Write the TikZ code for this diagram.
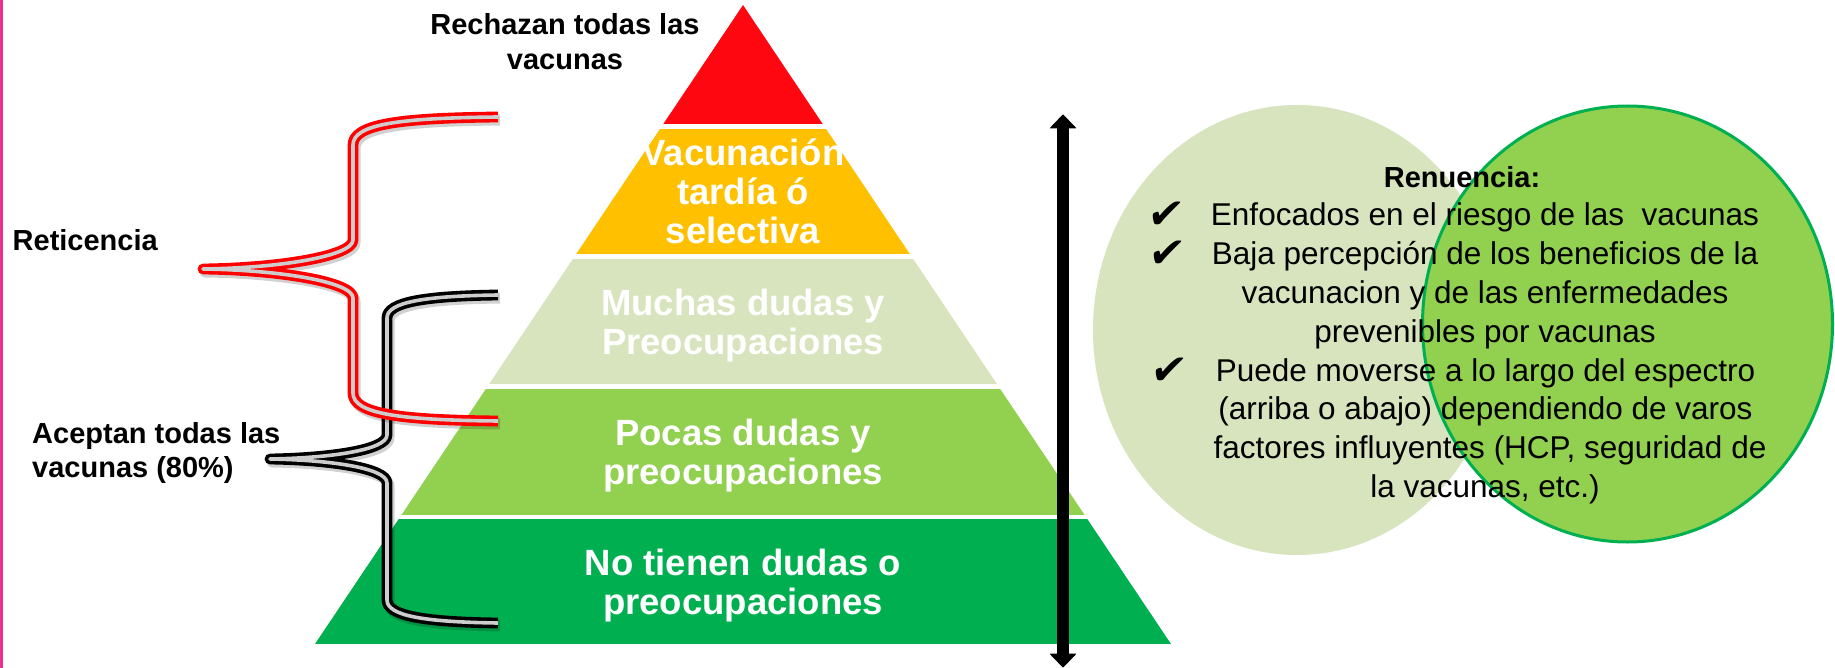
\documentclass[tikz,border=0pt]{standalone}
\usepackage{fontspec}
\setmainfont{Liberation Sans}
\newfontfamily\symfont{DejaVu Sans}
\usetikzlibrary{calc}
\definecolor{pyrred}{RGB}{255,7,16}
\definecolor{pyrorange}{RGB}{255,192,0}
\definecolor{pyrlight}{RGB}{215,228,189}
\definecolor{pyrgreen}{RGB}{146,208,80}
\definecolor{pyrdark}{RGB}{0,176,80}
\definecolor{pinkedge}{RGB}{236,46,140}
\definecolor{braceinner}{RGB}{205,205,205}
\begin{document}
\begin{tikzpicture}[x=1pt,y=-1pt,
  pyrtext/.style={text=white,font=\fontsize{36.5}{39}\selectfont\bfseries,inner sep=0pt,anchor=base},
  lbl/.style={font=\fontsize{29}{35}\selectfont\bfseries,inner sep=0pt,anchor=base},
  rtxt/.style={font=\fontsize{31.5}{38.6}\selectfont,inner sep=0pt,anchor=base},
  chk/.style={font=\symfont\fontsize{42}{42}\selectfont,inner sep=0pt,anchor=base,xslant=0.15},
  braceshadow/.style={draw=black,opacity=0.18,line width=11pt,line join=round,
     transform canvas={shift={(2pt,-3pt)}}},
  bracestroke/.style={draw=#1,line width=3.6pt,double=braceinner,double distance=3.6pt,line join=round},
  bigshaft/.style={line width=12pt,draw=black},
  bighead/.style={fill=black,draw=black,line width=1pt,line join=round},
]
\useasboundingbox (0,0) rectangle (1835,668);
\fill[white] (0,0) rectangle (1835,668);
% left pink edge
\fill[pinkedge] (0,0) rectangle (2.6,668);

% pyramid
\begin{scope}
\clip (743,5) -- (1171,644) -- (315,644) -- cycle;
\fill[pyrred] (300,0) rectangle (1200,124.5);
\fill[pyrorange] (300,129) rectangle (1200,254.5);
\fill[pyrlight] (300,259) rectangle (1200,384);
\fill[pyrgreen] (300,389) rectangle (1200,514.5);
\fill[pyrdark] (300,519) rectangle (1200,644);
\end{scope}

\node[pyrtext] (vac1) at (743,165.75) {Vacunación};
\node[pyrtext] (vac2) at (743,204.75) {tardía ó};
\node[pyrtext] (vac3) at (743,243.75) {selectiva};
\node[pyrtext] (much1) at (743,315) {Muchas dudas y};
\node[pyrtext] (much2) at (743,354) {Preocupaciones};
\node[pyrtext] (poc1) at (743,445.25) {Pocas dudas y};
\node[pyrtext] (poc2) at (743,484.25) {preocupaciones};
\node[pyrtext] (no1) at (743,575) {No tienen dudas o};
\node[pyrtext] (no2) at (743,614) {preocupaciones};

% labels
\node[lbl] (rech1) at (565,35) {Rechazan todas las};
\node[lbl] (rech2) at (565,70) {vacunas};
\node[lbl,anchor=base west] (retic) at (12.5,251) {Reticencia};
\node[lbl,anchor=base west] (acep1) at (32,443) {Aceptan todas las};
\node[lbl,anchor=base west] (acep2) at (32,477) {vacunas (80\%)};

% braces
\path[save path=\blackbrace] (498,295) .. controls (425,296) and (387,302) .. (387,318) -- (387,435)
   .. controls (387,450) and (330,458) .. (270,459)
   .. controls (330,460) and (387,468) .. (387,483) -- (387,600)
   .. controls (387,616) and (425,622) .. (498,623);
\path[save path=\redbrace] (498,117) .. controls (400,118) and (353,124) .. (353,145) -- (353,240)
   .. controls (353,256) and (280,268) .. (203,269)
   .. controls (280,270) and (353,282) .. (353,298) -- (353,393)
   .. controls (353,414) and (400,420) .. (498,421);
\draw[braceshadow, use path=\blackbrace];
\draw[bracestroke=black, use path=\blackbrace];
\draw[braceshadow, use path=\redbrace];
\draw[bracestroke=red, use path=\redbrace];

% vertical double arrow
\coordinate (arrtop) at (1063,115);
\coordinate (arrbot) at (1063,667);
\draw[bigshaft] ($(arrtop)+(0,10)$) -- ($(arrbot)+(0,-10)$);
\filldraw[bighead] (arrtop) -- ($(arrtop)+(12.5,13)$) -- ($(arrtop)+(-12.5,13)$) -- cycle;
\filldraw[bighead] (arrbot) -- ($(arrbot)+(12.5,-13)$) -- ($(arrbot)+(-12.5,-13)$) -- cycle;

% ellipses
\fill[pyrlight] (1297,330) ellipse [x radius=204pt, y radius=225pt];
\filldraw[fill=pyrgreen, draw=pyrdark, line width=3pt] (1627.5,324) ellipse [x radius=205pt, y radius=218pt];

% text in ellipses
\node[lbl] (ren) at (1462,188) {Renuencia:};
\node[chk] (c1) at (1164,229) {✔};
\node[chk] (c2) at (1165,268) {✔};
\node[chk] (c3) at (1167,384) {✔};
\node[rtxt] (r1) at (1485,226) {Enfocados en el riesgo de las\ \ vacunas};
\node[rtxt] (r2) at (1485,265) {Baja percepción de los beneficios de la};
\node[rtxt] (r3) at (1485,303.5) {vacunacion y de las enfermedades};
\node[rtxt] (r4) at (1485,342) {prevenibles por vacunas};
\node[rtxt] (r5) at (1485.5,381) {Puede moverse a lo largo del espectro};
\node[rtxt] (r6) at (1485.5,419.5) {(arriba o abajo) dependiendo de varos};
\node[rtxt] (r7) at (1490,458) {factores influyentes (HCP, seguridad de};
\node[rtxt] (r8) at (1485,497) {la vacunas, etc.)};
\end{tikzpicture}
\end{document}
